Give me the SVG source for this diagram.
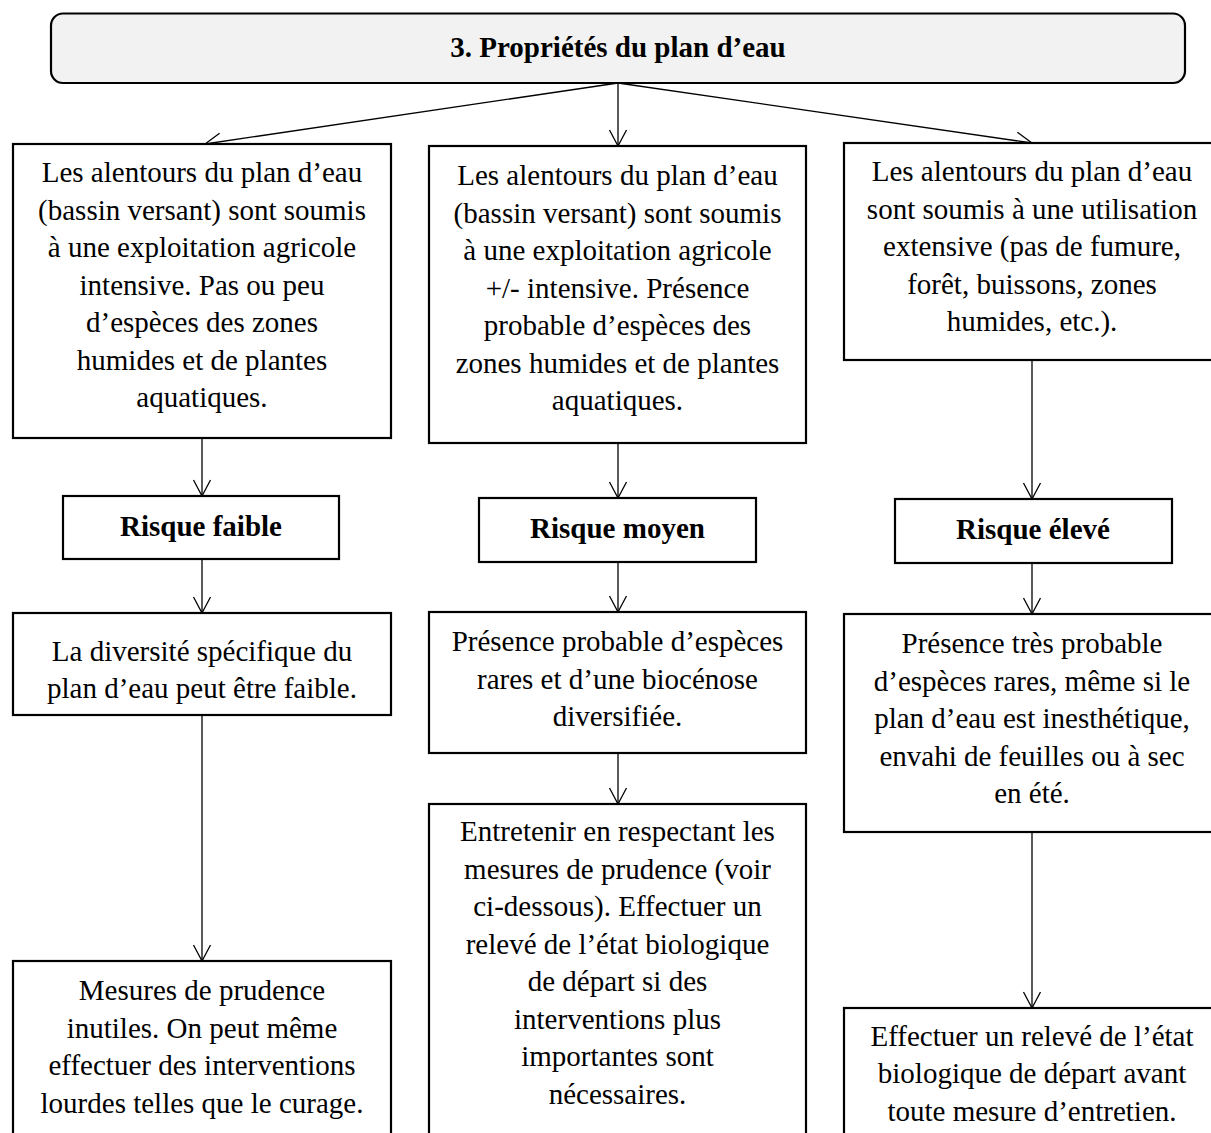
<svg xmlns="http://www.w3.org/2000/svg" width="1211" height="1133" viewBox="0 0 1211 1133">
<defs>
<style>
.box{fill:#fff;stroke:#000;stroke-width:2.2}
.title{fill:#f2f2f2;stroke:#000;stroke-width:2.2}
.t{font-family:"Liberation Serif","Times New Roman",serif;font-size:29px;fill:#000;text-anchor:middle}
.b{font-weight:bold}
.c{fill:none;stroke:#000;stroke-width:1.3}
</style>
<marker id="ah" markerUnits="userSpaceOnUse" markerWidth="18" markerHeight="20" viewBox="-17 -10 18 20" refX="0" refY="0" orient="auto">
<path d="M-16,-8.5 L0,0 L-16,8.5" fill="none" stroke="#000" stroke-width="1.3"/>
</marker>
</defs>
<rect width="1211" height="1133" fill="#fff"/>

<g id="connectors">
<line class="c" x1="618" y1="83" x2="205" y2="144" marker-end="url(#ah)"/>
<line class="c" x1="618" y1="83" x2="618" y2="146" marker-end="url(#ah)"/>
<line class="c" x1="618" y1="83" x2="1032" y2="143" marker-end="url(#ah)"/>
<line class="c" x1="202" y1="438" x2="202" y2="496" marker-end="url(#ah)"/>
<line class="c" x1="202" y1="559" x2="202" y2="613" marker-end="url(#ah)"/>
<line class="c" x1="202" y1="715" x2="202" y2="961" marker-end="url(#ah)"/>
<line class="c" x1="618" y1="443" x2="618" y2="498" marker-end="url(#ah)"/>
<line class="c" x1="618" y1="562" x2="618" y2="612" marker-end="url(#ah)"/>
<line class="c" x1="618" y1="753" x2="618" y2="804" marker-end="url(#ah)"/>
<line class="c" x1="1032" y1="360" x2="1032" y2="499" marker-end="url(#ah)"/>
<line class="c" x1="1032" y1="563" x2="1032" y2="614" marker-end="url(#ah)"/>
<line class="c" x1="1032" y1="832" x2="1032" y2="1008" marker-end="url(#ah)"/>
</g>

<g id="title">
<rect class="title" x="51" y="13.5" width="1134" height="69.5" rx="12"/>
<text class="t b" x="618" y="57">3. Propriétés du plan d’eau</text>
</g>

<g id="left1">
<rect class="box" x="13" y="144" width="378" height="294"/>
<text class="t" x="202" y="182">Les alentours du plan d’eau</text>
<text class="t" x="202" y="219.5">(bassin versant) sont soumis</text>
<text class="t" x="202" y="257">à une exploitation agricole</text>
<text class="t" x="202" y="294.5">intensive. Pas ou peu</text>
<text class="t" x="202" y="332">d’espèces des zones</text>
<text class="t" x="202" y="369.5">humides et de plantes</text>
<text class="t" x="202" y="407">aquatiques.</text>
</g>

<g id="mid1">
<rect class="box" x="429" y="146" width="377" height="297"/>
<text class="t" x="617.5" y="185">Les alentours du plan d’eau</text>
<text class="t" x="617.5" y="222.5">(bassin versant) sont soumis</text>
<text class="t" x="617.5" y="260">à une exploitation agricole</text>
<text class="t" x="617.5" y="297.5">+/- intensive. Présence</text>
<text class="t" x="617.5" y="335">probable d’espèces des</text>
<text class="t" x="617.5" y="372.5">zones humides et de plantes</text>
<text class="t" x="617.5" y="410">aquatiques.</text>
</g>

<g id="right1">
<rect class="box" x="844" y="143" width="380" height="217"/>
<text class="t" x="1032" y="181">Les alentours du plan d’eau</text>
<text class="t" x="1032" y="218.5">sont soumis à une utilisation</text>
<text class="t" x="1032" y="256">extensive (pas de fumure,</text>
<text class="t" x="1032" y="293.5">forêt, buissons, zones</text>
<text class="t" x="1032" y="331">humides, etc.).</text>
</g>

<g id="risk-low">
<rect class="box" x="63" y="496" width="276" height="63"/>
<text class="t b" x="201" y="536">Risque faible</text>
</g>
<g id="risk-mid">
<rect class="box" x="479" y="498" width="277" height="64"/>
<text class="t b" x="617.5" y="538">Risque moyen</text>
</g>
<g id="risk-high">
<rect class="box" x="895" y="499" width="277" height="64"/>
<text class="t b" x="1033" y="539">Risque élevé</text>
</g>

<g id="left2">
<rect class="box" x="13" y="613" width="378" height="102"/>
<text class="t" x="202" y="661">La diversité spécifique du</text>
<text class="t" x="202" y="698">plan d’eau peut être faible.</text>
</g>

<g id="mid2">
<rect class="box" x="429" y="612" width="377" height="141"/>
<text class="t" x="617.5" y="651">Présence probable d’espèces</text>
<text class="t" x="617.5" y="688.5">rares et d’une biocénose</text>
<text class="t" x="617.5" y="726">diversifiée.</text>
</g>

<g id="right2">
<rect class="box" x="844" y="614" width="380" height="218"/>
<text class="t" x="1032" y="653">Présence très probable</text>
<text class="t" x="1032" y="690.5">d’espèces rares, même si le</text>
<text class="t" x="1032" y="728">plan d’eau est inesthétique,</text>
<text class="t" x="1032" y="765.5">envahi de feuilles ou à sec</text>
<text class="t" x="1032" y="803">en été.</text>
</g>

<g id="left3">
<rect class="box" x="13" y="961" width="378" height="190"/>
<text class="t" x="202" y="1000">Mesures de prudence</text>
<text class="t" x="202" y="1037.5">inutiles. On peut même</text>
<text class="t" x="202" y="1075">effectuer des interventions</text>
<text class="t" x="202" y="1112.5">lourdes telles que le curage.</text>
</g>

<g id="mid3">
<rect class="box" x="429" y="804" width="377" height="347"/>
<text class="t" x="617.5" y="841">Entretenir en respectant les</text>
<text class="t" x="617.5" y="878.5">mesures de prudence (voir</text>
<text class="t" x="617.5" y="916">ci-dessous). Effectuer un</text>
<text class="t" x="617.5" y="953.5">relevé de l’état biologique</text>
<text class="t" x="617.5" y="991">de départ si des</text>
<text class="t" x="617.5" y="1028.5">interventions plus</text>
<text class="t" x="617.5" y="1066">importantes sont</text>
<text class="t" x="617.5" y="1103.5">nécessaires.</text>
</g>

<g id="right3">
<rect class="box" x="844" y="1008" width="380" height="143"/>
<text class="t" x="1032" y="1045.5">Effectuer un relevé de l’état</text>
<text class="t" x="1032" y="1083">biologique de départ avant</text>
<text class="t" x="1032" y="1120.5">toute mesure d’entretien.</text>
</g>
</svg>
